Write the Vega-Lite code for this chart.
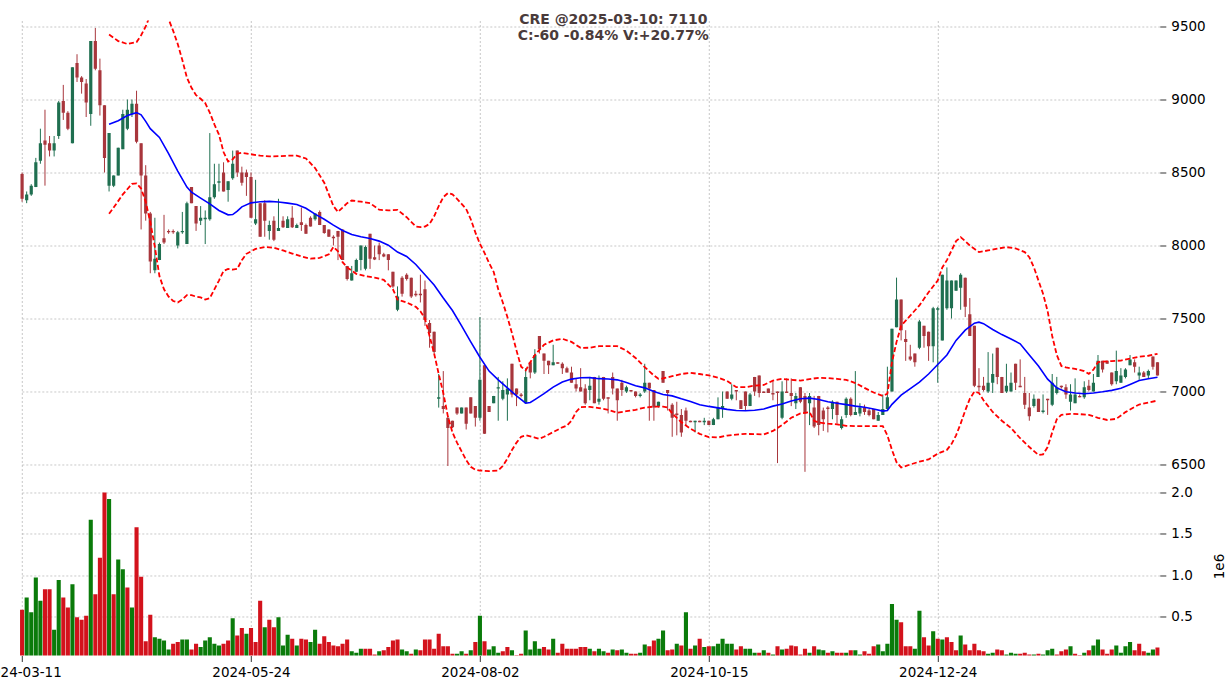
{
"$schema": "https://vega.github.io/schema/vega-lite/v6.json",
"padding": {"left": -17.2, "top": 12.5, "right": 0, "bottom": 0},
"background": "white",
"title": {"text": ["CRE @2025-03-10: 7110", "C:-60 -0.84% V:+20.77%"], "anchor": "middle", "frame": "bounds", "offset": -24, "dx": 9, "fontSize": 14, "fontWeight": "bold", "color": "#4a3b3b", "font": "DejaVu Sans", "lineHeight": 16},
"config": {"view": {"stroke": null}, "font": "DejaVu Sans",
  "axis": {"gridColor": "#b0b0b0", "gridDash": [2, 2], "gridWidth": 0.7, "domain": false, "tickColor": "#333333", "tickSize": 6, "labelColor": "#000000", "labelFontSize": 13.5, "labelFont": "DejaVu Sans", "titleFont": "DejaVu Sans", "titleFontWeight": "normal", "titleFontSize": 13.5, "titleColor": "#000000"}},
"datasets": {
"k": [
{"i":0,"o":8490,"h":8500,"l":8300,"c":8320,"v":0.58,"vd":"d"},
{"i":1,"o":8310,"h":8370,"l":8290,"c":8350,"v":0.73,"vd":"u"},
{"i":2,"o":8350,"h":8420,"l":8340,"c":8410,"v":0.55,"vd":"u"},
{"i":3,"o":8400,"h":8600,"l":8400,"c":8570,"v":0.97,"vd":"u"},
{"i":4,"o":8580,"h":8800,"l":8560,"c":8700,"v":0.69,"vd":"u"},
{"i":5,"o":8720,"h":8930,"l":8410,"c":8690,"v":0.83,"vd":"d"},
{"i":6,"o":8700,"h":8750,"l":8610,"c":8650,"v":0.83,"vd":"d"},
{"i":7,"o":8650,"h":8750,"l":8610,"c":8700,"v":0.34,"vd":"u"},
{"i":8,"o":8750,"h":8990,"l":8730,"c":8980,"v":0.94,"vd":"u"},
{"i":9,"o":8990,"h":9100,"l":8860,"c":8910,"v":0.73,"vd":"d"},
{"i":10,"o":8910,"h":8920,"l":8790,"c":8800,"v":0.61,"vd":"d"},
{"i":11,"o":8700,"h":9220,"l":8700,"c":9220,"v":0.89,"vd":"u"},
{"i":12,"o":9250,"h":9310,"l":9120,"c":9150,"v":0.49,"vd":"d"},
{"i":13,"o":9150,"h":9160,"l":9040,"c":9120,"v":0.46,"vd":"d"},
{"i":14,"o":9110,"h":9140,"l":8880,"c":8980,"v":0.51,"vd":"d"},
{"i":15,"o":8900,"h":9400,"l":8820,"c":9400,"v":1.67,"vd":"u"},
{"i":16,"o":9400,"h":9490,"l":9200,"c":9210,"v":0.77,"vd":"d"},
{"i":17,"o":9200,"h":9280,"l":8890,"c":8960,"v":1.21,"vd":"d"},
{"i":18,"o":8960,"h":8960,"l":8500,"c":8600,"v":2.0,"vd":"d"},
{"i":19,"o":8410,"h":8770,"l":8370,"c":8770,"v":1.92,"vd":"u"},
{"i":20,"o":8410,"h":8480,"l":8400,"c":8480,"v":0.77,"vd":"d"},
{"i":21,"o":8480,"h":8670,"l":8480,"c":8670,"v":1.19,"vd":"u"},
{"i":22,"o":8660,"h":8930,"l":8660,"c":8900,"v":1.07,"vd":"u"},
{"i":23,"o":8800,"h":9000,"l":8790,"c":8930,"v":0.85,"vd":"d"},
{"i":24,"o":8900,"h":9000,"l":8880,"c":8970,"v":0.61,"vd":"u"},
{"i":25,"o":8970,"h":9060,"l":8700,"c":8710,"v":1.58,"vd":"d"},
{"i":26,"o":8700,"h":8700,"l":8110,"c":8480,"v":0.98,"vd":"d"},
{"i":27,"o":8480,"h":8550,"l":8170,"c":8220,"v":0.20,"vd":"d"},
{"i":28,"o":8220,"h":8230,"l":7810,"c":7890,"v":0.52,"vd":"d"},
{"i":29,"o":7830,"h":8190,"l":7810,"c":7910,"v":0.25,"vd":"u"},
{"i":30,"o":7900,"h":8020,"l":7900,"c":8010,"v":0.23,"vd":"u"},
{"i":31,"o":8050,"h":8210,"l":8010,"c":8020,"v":0.21,"vd":"u"},
{"i":32,"o":8100,"h":8110,"l":8080,"c":8090,"v":0.10,"vd":"u"},
{"i":33,"o":8100,"h":8110,"l":8080,"c":8090,"v":0.17,"vd":"d"},
{"i":34,"o":8000,"h":8100,"l":7980,"c":8090,"v":0.19,"vd":"d"},
{"i":35,"o":8090,"h":8230,"l":8080,"c":8100,"v":0.22,"vd":"u"},
{"i":36,"o":8010,"h":8300,"l":8010,"c":8290,"v":0.22,"vd":"u"},
{"i":37,"o":8400,"h":8400,"l":8290,"c":8290,"v":0.10,"vd":"d"},
{"i":38,"o":8270,"h":8270,"l":8100,"c":8150,"v":0.17,"vd":"d"},
{"i":39,"o":8170,"h":8270,"l":8140,"c":8190,"v":0.13,"vd":"u"},
{"i":40,"o":8180,"h":8240,"l":8010,"c":8190,"v":0.21,"vd":"u"},
{"i":41,"o":8180,"h":8770,"l":8170,"c":8330,"v":0.25,"vd":"u"},
{"i":42,"o":8330,"h":8560,"l":8320,"c":8420,"v":0.17,"vd":"u"},
{"i":43,"o":8430,"h":8560,"l":8370,"c":8440,"v":0.15,"vd":"u"},
{"i":44,"o":8500,"h":8570,"l":8370,"c":8370,"v":0.17,"vd":"d"},
{"i":45,"o":8380,"h":8440,"l":8300,"c":8440,"v":0.21,"vd":"d"},
{"i":46,"o":8460,"h":8650,"l":8450,"c":8560,"v":0.48,"vd":"u"},
{"i":47,"o":8650,"h":8650,"l":8470,"c":8500,"v":0.27,"vd":"d"},
{"i":48,"o":8500,"h":8540,"l":8410,"c":8430,"v":0.36,"vd":"d"},
{"i":49,"o":8500,"h":8520,"l":8340,"c":8470,"v":0.29,"vd":"u"},
{"i":50,"o":8470,"h":8500,"l":8190,"c":8190,"v":0.36,"vd":"d"},
{"i":51,"o":8150,"h":8450,"l":8140,"c":8180,"v":0.19,"vd":"d"},
{"i":52,"o":8290,"h":8290,"l":8060,"c":8060,"v":0.69,"vd":"d"},
{"i":53,"o":8290,"h":8310,"l":8060,"c":8170,"v":0.37,"vd":"u"},
{"i":54,"o":8100,"h":8170,"l":8040,"c":8140,"v":0.46,"vd":"d"},
{"i":55,"o":8170,"h":8200,"l":8030,"c":8040,"v":0.37,"vd":"d"},
{"i":56,"o":8100,"h":8320,"l":8100,"c":8120,"v":0.49,"vd":"u"},
{"i":57,"o":8170,"h":8200,"l":8120,"c":8125,"v":0.15,"vd":"u"},
{"i":58,"o":8120,"h":8200,"l":8120,"c":8180,"v":0.28,"vd":"u"},
{"i":59,"o":8190,"h":8270,"l":8120,"c":8125,"v":0.23,"vd":"d"},
{"i":60,"o":8120,"h":8150,"l":8120,"c":8140,"v":0.15,"vd":"u"},
{"i":61,"o":8160,"h":8260,"l":8100,"c":8140,"v":0.23,"vd":"d"},
{"i":62,"o":8140,"h":8150,"l":8080,"c":8080,"v":0.22,"vd":"d"},
{"i":63,"o":8190,"h":8200,"l":8130,"c":8130,"v":0.19,"vd":"u"},
{"i":64,"o":8180,"h":8220,"l":8170,"c":8220,"v":0.34,"vd":"u"},
{"i":65,"o":8230,"h":8240,"l":8140,"c":8140,"v":0.17,"vd":"d"},
{"i":66,"o":8140,"h":8140,"l":8080,"c":8085,"v":0.26,"vd":"d"},
{"i":67,"o":8110,"h":8110,"l":8060,"c":8060,"v":0.19,"vd":"d"},
{"i":68,"o":8060,"h":8070,"l":8000,"c":8050,"v":0.15,"vd":"d"},
{"i":69,"o":8100,"h":8100,"l":7900,"c":8060,"v":0.14,"vd":"d"},
{"i":70,"o":8110,"h":8110,"l":7900,"c":7900,"v":0.17,"vd":"d"},
{"i":71,"o":7860,"h":7860,"l":7760,"c":7770,"v":0.22,"vd":"d"},
{"i":72,"o":7760,"h":7860,"l":7760,"c":7810,"v":0.08,"vd":"u"},
{"i":73,"o":7820,"h":7910,"l":7820,"c":7900,"v":0.06,"vd":"u"},
{"i":74,"o":7900,"h":8000,"l":7830,"c":8000,"v":0.11,"vd":"u"},
{"i":75,"o":7840,"h":8000,"l":7830,"c":7990,"v":0.11,"vd":"d"},
{"i":76,"o":8080,"h":8080,"l":7840,"c":7910,"v":0.11,"vd":"d"},
{"i":77,"o":7920,"h":8000,"l":7900,"c":7905,"v":0.04,"vd":"d"},
{"i":78,"o":8000,"h":8020,"l":7900,"c":7940,"v":0.08,"vd":"u"},
{"i":79,"o":7940,"h":7950,"l":7920,"c":7925,"v":0.09,"vd":"d"},
{"i":80,"o":7940,"h":7940,"l":7830,"c":7900,"v":0.13,"vd":"d"},
{"i":81,"o":7820,"h":7820,"l":7710,"c":7720,"v":0.21,"vd":"d"},
{"i":82,"o":7560,"h":7720,"l":7550,"c":7650,"v":0.22,"vd":"d"},
{"i":83,"o":7780,"h":7790,"l":7650,"c":7670,"v":0.10,"vd":"u"},
{"i":84,"o":7800,"h":7810,"l":7760,"c":7770,"v":0.08,"vd":"u"},
{"i":85,"o":7780,"h":7780,"l":7640,"c":7650,"v":0.05,"vd":"d"},
{"i":86,"o":7670,"h":7690,"l":7650,"c":7660,"v":0.10,"vd":"u"},
{"i":87,"o":7670,"h":7800,"l":7610,"c":7660,"v":0.09,"vd":"d"},
{"i":88,"o":7700,"h":7760,"l":7450,"c":7490,"v":0.22,"vd":"d"},
{"i":89,"o":7470,"h":7490,"l":7300,"c":7400,"v":0.22,"vd":"d"},
{"i":90,"o":7410,"h":7410,"l":7260,"c":7270,"v":0.11,"vd":"d"},
{"i":91,"o":6950,"h":7120,"l":6890,"c":6960,"v":0.29,"vd":"d"},
{"i":92,"o":6900,"h":7140,"l":6850,"c":6880,"v":0.14,"vd":"d"},
{"i":93,"o":6820,"h":6830,"l":6490,"c":6750,"v":0.14,"vd":"d"},
{"i":94,"o":6800,"h":6800,"l":6750,"c":6755,"v":0.05,"vd":"d"},
{"i":95,"o":6890,"h":6890,"l":6840,"c":6850,"v":0.05,"vd":"u"},
{"i":96,"o":6850,"h":6890,"l":6850,"c":6890,"v":0.08,"vd":"u"},
{"i":97,"o":6890,"h":6890,"l":6740,"c":6780,"v":0.05,"vd":"d"},
{"i":98,"o":6960,"h":6960,"l":6850,"c":6850,"v":0.09,"vd":"u"},
{"i":99,"o":6900,"h":6900,"l":6760,"c":6820,"v":0.19,"vd":"d"},
{"i":100,"o":6820,"h":7510,"l":6800,"c":7080,"v":0.51,"vd":"u"},
{"i":101,"o":7180,"h":7180,"l":6710,"c":6710,"v":0.20,"vd":"d"},
{"i":102,"o":6900,"h":6900,"l":6860,"c":6860,"v":0.10,"vd":"u"},
{"i":103,"o":6920,"h":6970,"l":6920,"c":6970,"v":0.14,"vd":"u"},
{"i":104,"o":7020,"h":7100,"l":6800,"c":7030,"v":0.06,"vd":"u"},
{"i":105,"o":6950,"h":7070,"l":6940,"c":7010,"v":0.08,"vd":"d"},
{"i":106,"o":6980,"h":7090,"l":6800,"c":7020,"v":0.13,"vd":"d"},
{"i":107,"o":7190,"h":7190,"l":6960,"c":6980,"v":0.09,"vd":"u"},
{"i":108,"o":7020,"h":7020,"l":6900,"c":6980,"v":0.03,"vd":"d"},
{"i":109,"o":6980,"h":6990,"l":6960,"c":6970,"v":0.05,"vd":"d"},
{"i":110,"o":6920,"h":7160,"l":6920,"c":7100,"v":0.33,"vd":"u"},
{"i":111,"o":7200,"h":7200,"l":7090,"c":7130,"v":0.10,"vd":"u"},
{"i":112,"o":7130,"h":7290,"l":7120,"c":7250,"v":0.20,"vd":"u"},
{"i":113,"o":7380,"h":7380,"l":7260,"c":7290,"v":0.11,"vd":"u"},
{"i":114,"o":7260,"h":7260,"l":7120,"c":7210,"v":0.13,"vd":"d"},
{"i":115,"o":7210,"h":7210,"l":7120,"c":7180,"v":0.10,"vd":"d"},
{"i":116,"o":7180,"h":7320,"l":7180,"c":7200,"v":0.23,"vd":"u"},
{"i":117,"o":7200,"h":7200,"l":7190,"c":7190,"v":0.06,"vd":"d"},
{"i":118,"o":7190,"h":7200,"l":7120,"c":7160,"v":0.17,"vd":"d"},
{"i":119,"o":7160,"h":7170,"l":7130,"c":7130,"v":0.11,"vd":"d"},
{"i":120,"o":7130,"h":7170,"l":7060,"c":7060,"v":0.11,"vd":"d"},
{"i":121,"o":7050,"h":7090,"l":7000,"c":7020,"v":0.11,"vd":"d"},
{"i":122,"o":7030,"h":7160,"l":7000,"c":7000,"v":0.13,"vd":"d"},
{"i":123,"o":7020,"h":7050,"l":6910,"c":6920,"v":0.13,"vd":"d"},
{"i":124,"o":7010,"h":7100,"l":6940,"c":7040,"v":0.11,"vd":"u"},
{"i":125,"o":7100,"h":7100,"l":6920,"c":6920,"v":0.08,"vd":"d"},
{"i":126,"o":6930,"h":7110,"l":6910,"c":6950,"v":0.11,"vd":"u"},
{"i":127,"o":7100,"h":7100,"l":6940,"c":6950,"v":0.08,"vd":"u"},
{"i":128,"o":6960,"h":6960,"l":6850,"c":6950,"v":0.06,"vd":"d"},
{"i":129,"o":7100,"h":7130,"l":6980,"c":7020,"v":0.10,"vd":"u"},
{"i":130,"o":7020,"h":7020,"l":6800,"c":6940,"v":0.09,"vd":"d"},
{"i":131,"o":7060,"h":7080,"l":6970,"c":7010,"v":0.10,"vd":"u"},
{"i":132,"o":7000,"h":7040,"l":6990,"c":7030,"v":0.06,"vd":"u"},
{"i":133,"o":7010,"h":7010,"l":7000,"c":7000,"v":0.05,"vd":"d"},
{"i":134,"o":7000,"h":7000,"l":6960,"c":6970,"v":0.05,"vd":"d"},
{"i":135,"o":6970,"h":6990,"l":6960,"c":6980,"v":0.06,"vd":"u"},
{"i":136,"o":7000,"h":7190,"l":6990,"c":7060,"v":0.16,"vd":"u"},
{"i":137,"o":7060,"h":7060,"l":6800,"c":7020,"v":0.14,"vd":"d"},
{"i":138,"o":7010,"h":7010,"l":6800,"c":6890,"v":0.21,"vd":"d"},
{"i":139,"o":6900,"h":6930,"l":6890,"c":6930,"v":0.23,"vd":"u"},
{"i":140,"o":7140,"h":7140,"l":7060,"c":7060,"v":0.33,"vd":"u"},
{"i":141,"o":7010,"h":7010,"l":6870,"c":6990,"v":0.09,"vd":"d"},
{"i":142,"o":6910,"h":6920,"l":6690,"c":6820,"v":0.10,"vd":"d"},
{"i":143,"o":6850,"h":6930,"l":6700,"c":6840,"v":0.17,"vd":"u"},
{"i":144,"o":6840,"h":6880,"l":6690,"c":6720,"v":0.15,"vd":"d"},
{"i":145,"o":6870,"h":6890,"l":6770,"c":6800,"v":0.55,"vd":"u"},
{"i":146,"o":6800,"h":6800,"l":6790,"c":6790,"v":0.11,"vd":"d"},
{"i":147,"o":6790,"h":6800,"l":6720,"c":6800,"v":0.15,"vd":"u"},
{"i":148,"o":6800,"h":6800,"l":6790,"c":6790,"v":0.23,"vd":"d"},
{"i":149,"o":6790,"h":6820,"l":6770,"c":6800,"v":0.13,"vd":"u"},
{"i":150,"o":6800,"h":6800,"l":6770,"c":6770,"v":0.14,"vd":"d"},
{"i":151,"o":6770,"h":6820,"l":6770,"c":6810,"v":0.14,"vd":"u"},
{"i":152,"o":6810,"h":6960,"l":6810,"c":6890,"v":0.17,"vd":"u"},
{"i":153,"o":6880,"h":7000,"l":6820,"c":6900,"v":0.23,"vd":"u"},
{"i":154,"o":7000,"h":7000,"l":6950,"c":6950,"v":0.17,"vd":"u"},
{"i":155,"o":6950,"h":7050,"l":6940,"c":6980,"v":0.17,"vd":"u"},
{"i":156,"o":7010,"h":7010,"l":6940,"c":7000,"v":0.10,"vd":"d"},
{"i":157,"o":6940,"h":6940,"l":6880,"c":6880,"v":0.14,"vd":"d"},
{"i":158,"o":7000,"h":7000,"l":6870,"c":6900,"v":0.11,"vd":"u"},
{"i":159,"o":6900,"h":6990,"l":6900,"c":6980,"v":0.11,"vd":"u"},
{"i":160,"o":7100,"h":7100,"l":6970,"c":7000,"v":0.06,"vd":"u"},
{"i":161,"o":7110,"h":7110,"l":6960,"c":6990,"v":0.06,"vd":"d"},
{"i":162,"o":7000,"h":7000,"l":6990,"c":6990,"v":0.09,"vd":"u"},
{"i":163,"o":7020,"h":7020,"l":6990,"c":6990,"v":0.06,"vd":"d"},
{"i":164,"o":6990,"h":7070,"l":6940,"c":6980,"v":0.04,"vd":"u"},
{"i":165,"o":7000,"h":7000,"l":6510,"c":6990,"v":0.14,"vd":"d"},
{"i":166,"o":6820,"h":7070,"l":6810,"c":7000,"v":0.10,"vd":"u"},
{"i":167,"o":7000,"h":7090,"l":6990,"c":6990,"v":0.11,"vd":"d"},
{"i":168,"o":6990,"h":7090,"l":6900,"c":6970,"v":0.15,"vd":"d"},
{"i":169,"o":6920,"h":6990,"l":6880,"c":6970,"v":0.14,"vd":"d"},
{"i":170,"o":7030,"h":7030,"l":6920,"c":6930,"v":0.04,"vd":"d"},
{"i":171,"o":6970,"h":6990,"l":6450,"c":6850,"v":0.11,"vd":"d"},
{"i":172,"o":6920,"h":6990,"l":6770,"c":6970,"v":0.06,"vd":"u"},
{"i":173,"o":6890,"h":6970,"l":6750,"c":6760,"v":0.14,"vd":"d"},
{"i":174,"o":6970,"h":6970,"l":6700,"c":6770,"v":0.10,"vd":"u"},
{"i":175,"o":6870,"h":6890,"l":6730,"c":6810,"v":0.09,"vd":"u"},
{"i":176,"o":6890,"h":6900,"l":6720,"c":6880,"v":0.06,"vd":"d"},
{"i":177,"o":6880,"h":6940,"l":6810,"c":6930,"v":0.08,"vd":"u"},
{"i":178,"o":6930,"h":6930,"l":6780,"c":6840,"v":0.06,"vd":"d"},
{"i":179,"o":6750,"h":6830,"l":6740,"c":6810,"v":0.06,"vd":"d"},
{"i":180,"o":6840,"h":6960,"l":6820,"c":6950,"v":0.06,"vd":"u"},
{"i":181,"o":6950,"h":6960,"l":6830,"c":6840,"v":0.09,"vd":"d"},
{"i":182,"o":6840,"h":7140,"l":6840,"c":6860,"v":0.09,"vd":"u"},
{"i":183,"o":6850,"h":6920,"l":6830,"c":6890,"v":0.04,"vd":"u"},
{"i":184,"o":6890,"h":6910,"l":6840,"c":6860,"v":0.08,"vd":"d"},
{"i":185,"o":6870,"h":6880,"l":6830,"c":6840,"v":0.05,"vd":"d"},
{"i":186,"o":6880,"h":6880,"l":6810,"c":6810,"v":0.14,"vd":"d"},
{"i":187,"o":6800,"h":6860,"l":6800,"c":6840,"v":0.16,"vd":"u"},
{"i":188,"o":6840,"h":6980,"l":6840,"c":6880,"v":0.08,"vd":"u"},
{"i":189,"o":6880,"h":7170,"l":6870,"c":6960,"v":0.17,"vd":"u"},
{"i":190,"o":7000,"h":7430,"l":7000,"c":7430,"v":0.65,"vd":"u"},
{"i":191,"o":7440,"h":7780,"l":7440,"c":7630,"v":0.46,"vd":"u"},
{"i":192,"o":7630,"h":7630,"l":7350,"c":7420,"v":0.43,"vd":"d"},
{"i":193,"o":7360,"h":7420,"l":7210,"c":7340,"v":0.14,"vd":"d"},
{"i":194,"o":7240,"h":7320,"l":7210,"c":7220,"v":0.14,"vd":"d"},
{"i":195,"o":7260,"h":7260,"l":7170,"c":7200,"v":0.11,"vd":"u"},
{"i":196,"o":7300,"h":7490,"l":7290,"c":7480,"v":0.57,"vd":"u"},
{"i":197,"o":7450,"h":7450,"l":7300,"c":7380,"v":0.25,"vd":"d"},
{"i":198,"o":7410,"h":7410,"l":7210,"c":7310,"v":0.15,"vd":"d"},
{"i":199,"o":7310,"h":7580,"l":7200,"c":7570,"v":0.32,"vd":"u"},
{"i":200,"o":7560,"h":7580,"l":7060,"c":7570,"v":0.23,"vd":"d"},
{"i":201,"o":7350,"h":7800,"l":7350,"c":7800,"v":0.22,"vd":"u"},
{"i":202,"o":7570,"h":7850,"l":7560,"c":7760,"v":0.25,"vd":"d"},
{"i":203,"o":7570,"h":7760,"l":7500,"c":7760,"v":0.19,"vd":"d"},
{"i":204,"o":7690,"h":7760,"l":7690,"c":7760,"v":0.09,"vd":"d"},
{"i":205,"o":7710,"h":7810,"l":7560,"c":7800,"v":0.27,"vd":"u"},
{"i":206,"o":7780,"h":7780,"l":7510,"c":7580,"v":0.16,"vd":"d"},
{"i":207,"o":7530,"h":7640,"l":7380,"c":7380,"v":0.09,"vd":"d"},
{"i":208,"o":7450,"h":7450,"l":7030,"c":7040,"v":0.17,"vd":"d"},
{"i":209,"o":7040,"h":7160,"l":7000,"c":7030,"v":0.09,"vd":"d"},
{"i":210,"o":7040,"h":7100,"l":7000,"c":7010,"v":0.08,"vd":"d"},
{"i":211,"o":7000,"h":7270,"l":6990,"c":7060,"v":0.05,"vd":"u"},
{"i":212,"o":7060,"h":7260,"l":6990,"c":7120,"v":0.06,"vd":"u"},
{"i":213,"o":7300,"h":7300,"l":7050,"c":7100,"v":0.10,"vd":"d"},
{"i":214,"o":7100,"h":7100,"l":6990,"c":6990,"v":0.09,"vd":"d"},
{"i":215,"o":7000,"h":7190,"l":6990,"c":7040,"v":0.04,"vd":"u"},
{"i":216,"o":7000,"h":7130,"l":7000,"c":7060,"v":0.06,"vd":"u"},
{"i":217,"o":7190,"h":7190,"l":7010,"c":7060,"v":0.05,"vd":"u"},
{"i":218,"o":7040,"h":7220,"l":7030,"c":7030,"v":0.05,"vd":"d"},
{"i":219,"o":6990,"h":7100,"l":6880,"c":6910,"v":0.06,"vd":"d"},
{"i":220,"o":6890,"h":6990,"l":6800,"c":6830,"v":0.04,"vd":"d"},
{"i":221,"o":6900,"h":6980,"l":6890,"c":6950,"v":0.04,"vd":"u"},
{"i":222,"o":6950,"h":6950,"l":6860,"c":6860,"v":0.05,"vd":"d"},
{"i":223,"o":6860,"h":6980,"l":6850,"c":6870,"v":0.04,"vd":"u"},
{"i":224,"o":6950,"h":6950,"l":6840,"c":6940,"v":0.09,"vd":"u"},
{"i":225,"o":6910,"h":7120,"l":6900,"c":7060,"v":0.11,"vd":"u"},
{"i":226,"o":6990,"h":7100,"l":6980,"c":7030,"v":0.04,"vd":"d"},
{"i":227,"o":7040,"h":7040,"l":7020,"c":7030,"v":0.08,"vd":"d"},
{"i":228,"o":7030,"h":7050,"l":6950,"c":6980,"v":0.10,"vd":"d"},
{"i":229,"o":6930,"h":7050,"l":6870,"c":6980,"v":0.14,"vd":"u"},
{"i":230,"o":6920,"h":7090,"l":6920,"c":6980,"v":0.05,"vd":"d"},
{"i":231,"o":6970,"h":6980,"l":6960,"c":6960,"v":0.03,"vd":"d"},
{"i":232,"o":6960,"h":7070,"l":6950,"c":7030,"v":0.06,"vd":"u"},
{"i":233,"o":7040,"h":7080,"l":7000,"c":7010,"v":0.09,"vd":"d"},
{"i":234,"o":7000,"h":7120,"l":7000,"c":7060,"v":0.15,"vd":"u"},
{"i":235,"o":7100,"h":7250,"l":7100,"c":7210,"v":0.22,"vd":"u"},
{"i":236,"o":7210,"h":7210,"l":7130,"c":7150,"v":0.10,"vd":"d"},
{"i":237,"o":7210,"h":7210,"l":7190,"c":7190,"v":0.05,"vd":"d"},
{"i":238,"o":7130,"h":7130,"l":7040,"c":7050,"v":0.10,"vd":"d"},
{"i":239,"o":7070,"h":7280,"l":7050,"c":7140,"v":0.15,"vd":"u"},
{"i":240,"o":7060,"h":7160,"l":7060,"c":7110,"v":0.06,"vd":"u"},
{"i":241,"o":7100,"h":7160,"l":7090,"c":7150,"v":0.14,"vd":"u"},
{"i":242,"o":7180,"h":7250,"l":7180,"c":7220,"v":0.19,"vd":"u"},
{"i":243,"o":7200,"h":7220,"l":7130,"c":7170,"v":0.09,"vd":"d"},
{"i":244,"o":7110,"h":7170,"l":7080,"c":7130,"v":0.17,"vd":"d"},
{"i":245,"o":7130,"h":7140,"l":7100,"c":7100,"v":0.08,"vd":"d"},
{"i":246,"o":7110,"h":7150,"l":7090,"c":7140,"v":0.06,"vd":"u"},
{"i":247,"o":7240,"h":7240,"l":7150,"c":7170,"v":0.10,"vd":"u"},
{"i":248,"o":7200,"h":7200,"l":7110,"c":7110,"v":0.125,"vd":"d"}
],
"mid": [
{"i":19,"p":8830},{"i":21,"p":8855},{"i":23,"p":8890},{"i":25,"p":8910},{"i":26,"p":8895},{"i":27,"p":8850},{"i":28,"p":8800},{"i":30,"p":8740},{"i":32,"p":8630},{"i":34,"p":8510},{"i":36,"p":8400},{"i":37,"p":8365},{"i":39,"p":8325},{"i":41,"p":8285},{"i":43,"p":8240},{"i":45,"p":8210},{"i":46,"p":8212},{"i":47,"p":8235},{"i":48,"p":8265},{"i":50,"p":8292},{"i":52,"p":8300},{"i":54,"p":8302},{"i":56,"p":8298},{"i":58,"p":8290},{"i":60,"p":8281},{"i":62,"p":8255},{"i":64,"p":8215},{"i":66,"p":8180},{"i":68,"p":8140},{"i":70,"p":8103},{"i":72,"p":8075},{"i":74,"p":8060},{"i":76,"p":8048},{"i":78,"p":8030},{"i":80,"p":8002},{"i":82,"p":7955},{"i":84,"p":7925},{"i":86,"p":7870},{"i":88,"p":7800},{"i":90,"p":7730},{"i":92,"p":7640},{"i":94,"p":7555},{"i":96,"p":7450},{"i":98,"p":7340},{"i":100,"p":7235},{"i":102,"p":7140},{"i":104,"p":7080},{"i":106,"p":7025},{"i":108,"p":6970},{"i":110,"p":6920},{"i":111,"p":6925},{"i":112,"p":6945},{"i":114,"p":6985},{"i":116,"p":7030},{"i":118,"p":7065},{"i":120,"p":7085},{"i":122,"p":7094},{"i":124,"p":7095},{"i":126,"p":7088},{"i":128,"p":7086},{"i":130,"p":7080},{"i":132,"p":7062},{"i":134,"p":7040},{"i":136,"p":7025},{"i":138,"p":7000},{"i":140,"p":6980},{"i":142,"p":6970},{"i":144,"p":6950},{"i":146,"p":6932},{"i":148,"p":6910},{"i":150,"p":6898},{"i":152,"p":6888},{"i":154,"p":6878},{"i":156,"p":6870},{"i":158,"p":6868},{"i":160,"p":6872},{"i":162,"p":6880},{"i":164,"p":6900},{"i":166,"p":6915},{"i":168,"p":6935},{"i":170,"p":6950},{"i":172,"p":6955},{"i":174,"p":6945},{"i":176,"p":6930},{"i":178,"p":6920},{"i":180,"p":6910},{"i":182,"p":6900},{"i":184,"p":6892},{"i":186,"p":6880},{"i":188,"p":6866},{"i":189,"p":6870},{"i":190,"p":6912},{"i":192,"p":6975},{"i":194,"p":7020},{"i":196,"p":7065},{"i":198,"p":7120},{"i":200,"p":7185},{"i":202,"p":7250},{"i":204,"p":7350},{"i":206,"p":7420},{"i":208,"p":7468},{"i":209,"p":7475},{"i":210,"p":7465},{"i":212,"p":7425},{"i":214,"p":7390},{"i":216,"p":7360},{"i":218,"p":7327},{"i":220,"p":7250},{"i":222,"p":7175},{"i":224,"p":7085},{"i":226,"p":7025},{"i":228,"p":6998},{"i":230,"p":6990},{"i":232,"p":6985},{"i":234,"p":6990},{"i":236,"p":6998},{"i":238,"p":7008},{"i":240,"p":7022},{"i":242,"p":7048},{"i":244,"p":7075},{"i":246,"p":7088},{"i":248,"p":7098}
],
"upper": [
{"i":19,"p":9445},{"i":21,"p":9400},{"i":23,"p":9380},{"i":25,"p":9393},{"i":26,"p":9440},{"i":27,"p":9500},{"i":28,"p":9580},{"i":29,"p":9640},{"i":30,"p":9660},{"i":31,"p":9620},{"i":32,"p":9550},{"i":33,"p":9470},{"i":34,"p":9380},{"i":35,"p":9270},{"i":36,"p":9150},{"i":37,"p":9080},{"i":38,"p":9030},{"i":39,"p":9005},{"i":40,"p":8975},{"i":41,"p":8910},{"i":42,"p":8830},{"i":43,"p":8760},{"i":44,"p":8640},{"i":45,"p":8575},{"i":46,"p":8590},{"i":47,"p":8630},{"i":48,"p":8635},{"i":50,"p":8625},{"i":52,"p":8615},{"i":54,"p":8610},{"i":56,"p":8612},{"i":58,"p":8615},{"i":60,"p":8616},{"i":62,"p":8596},{"i":64,"p":8530},{"i":66,"p":8430},{"i":67,"p":8350},{"i":68,"p":8270},{"i":69,"p":8230},{"i":70,"p":8260},{"i":71,"p":8290},{"i":72,"p":8308},{"i":74,"p":8300},{"i":76,"p":8290},{"i":78,"p":8245},{"i":80,"p":8240},{"i":82,"p":8244},{"i":84,"p":8194},{"i":86,"p":8130},{"i":87,"p":8126},{"i":88,"p":8130},{"i":89,"p":8148},{"i":90,"p":8200},{"i":91,"p":8270},{"i":92,"p":8331},{"i":93,"p":8359},{"i":94,"p":8350},{"i":95,"p":8320},{"i":96,"p":8285},{"i":97,"p":8250},{"i":98,"p":8180},{"i":99,"p":8090},{"i":100,"p":8012},{"i":101,"p":7950},{"i":102,"p":7880},{"i":103,"p":7820},{"i":104,"p":7700},{"i":105,"p":7610},{"i":106,"p":7510},{"i":107,"p":7400},{"i":108,"p":7280},{"i":109,"p":7170},{"i":110,"p":7145},{"i":111,"p":7200},{"i":112,"p":7250},{"i":114,"p":7320},{"i":116,"p":7350},{"i":118,"p":7361},{"i":120,"p":7340},{"i":122,"p":7299},{"i":124,"p":7300},{"i":126,"p":7311},{"i":128,"p":7311},{"i":130,"p":7311},{"i":132,"p":7280},{"i":134,"p":7230},{"i":136,"p":7167},{"i":138,"p":7110},{"i":139,"p":7087},{"i":140,"p":7090},{"i":142,"p":7105},{"i":144,"p":7120},{"i":146,"p":7128},{"i":148,"p":7120},{"i":150,"p":7110},{"i":152,"p":7095},{"i":154,"p":7072},{"i":156,"p":7030},{"i":158,"p":7030},{"i":160,"p":7040},{"i":162,"p":7045},{"i":164,"p":7075},{"i":166,"p":7087},{"i":168,"p":7080},{"i":170,"p":7075},{"i":172,"p":7085},{"i":174,"p":7094},{"i":176,"p":7092},{"i":178,"p":7087},{"i":180,"p":7080},{"i":182,"p":7058},{"i":184,"p":7025},{"i":186,"p":6993},{"i":188,"p":6970},{"i":189,"p":6985},{"i":190,"p":7200},{"i":191,"p":7340},{"i":192,"p":7450},{"i":194,"p":7520},{"i":196,"p":7590},{"i":198,"p":7680},{"i":200,"p":7760},{"i":201,"p":7850},{"i":202,"p":7900},{"i":204,"p":8030},{"i":205,"p":8057},{"i":206,"p":8030},{"i":207,"p":8000},{"i":209,"p":7955},{"i":211,"p":7966},{"i":213,"p":7978},{"i":215,"p":7989},{"i":217,"p":7980},{"i":219,"p":7955},{"i":220,"p":7920},{"i":221,"p":7850},{"i":222,"p":7760},{"i":223,"p":7670},{"i":224,"p":7550},{"i":225,"p":7380},{"i":226,"p":7250},{"i":227,"p":7175},{"i":228,"p":7165},{"i":230,"p":7155},{"i":232,"p":7140},{"i":233,"p":7121},{"i":234,"p":7150},{"i":235,"p":7201},{"i":236,"p":7205},{"i":238,"p":7208},{"i":240,"p":7212},{"i":242,"p":7225},{"i":244,"p":7238},{"i":246,"p":7245},{"i":248,"p":7258}
],
"lower": [
{"i":19,"p":8217},{"i":20,"p":8260},{"i":22,"p":8350},{"i":24,"p":8422},{"i":25,"p":8425},{"i":26,"p":8390},{"i":27,"p":8300},{"i":28,"p":8160},{"i":29,"p":7990},{"i":30,"p":7790},{"i":31,"p":7700},{"i":32,"p":7650},{"i":33,"p":7620},{"i":34,"p":7610},{"i":35,"p":7630},{"i":36,"p":7660},{"i":37,"p":7660},{"i":38,"p":7650},{"i":39,"p":7645},{"i":40,"p":7630},{"i":41,"p":7640},{"i":42,"p":7700},{"i":43,"p":7760},{"i":44,"p":7825},{"i":45,"p":7840},{"i":46,"p":7835},{"i":47,"p":7840},{"i":48,"p":7900},{"i":49,"p":7943},{"i":51,"p":7977},{"i":53,"p":7990},{"i":55,"p":7985},{"i":57,"p":7966},{"i":59,"p":7945},{"i":61,"p":7925},{"i":63,"p":7910},{"i":65,"p":7915},{"i":67,"p":7940},{"i":68,"p":7990},{"i":69,"p":7960},{"i":70,"p":7886},{"i":71,"p":7850},{"i":73,"p":7806},{"i":75,"p":7790},{"i":77,"p":7780},{"i":79,"p":7765},{"i":81,"p":7700},{"i":82,"p":7630},{"i":84,"p":7610},{"i":86,"p":7580},{"i":87,"p":7550},{"i":88,"p":7500},{"i":89,"p":7380},{"i":90,"p":7260},{"i":91,"p":7120},{"i":92,"p":6990},{"i":93,"p":6830},{"i":94,"p":6720},{"i":95,"p":6650},{"i":96,"p":6590},{"i":97,"p":6530},{"i":98,"p":6485},{"i":99,"p":6465},{"i":100,"p":6459},{"i":102,"p":6455},{"i":104,"p":6459},{"i":105,"p":6490},{"i":106,"p":6540},{"i":107,"p":6600},{"i":108,"p":6650},{"i":109,"p":6690},{"i":110,"p":6700},{"i":112,"p":6685},{"i":113,"p":6676},{"i":114,"p":6690},{"i":116,"p":6722},{"i":118,"p":6755},{"i":119,"p":6767},{"i":120,"p":6800},{"i":121,"p":6860},{"i":122,"p":6893},{"i":124,"p":6895},{"i":126,"p":6887},{"i":128,"p":6875},{"i":130,"p":6855},{"i":132,"p":6865},{"i":134,"p":6875},{"i":136,"p":6890},{"i":138,"p":6897},{"i":140,"p":6897},{"i":141,"p":6890},{"i":142,"p":6850},{"i":144,"p":6790},{"i":146,"p":6745},{"i":148,"p":6710},{"i":150,"p":6688},{"i":152,"p":6685},{"i":154,"p":6698},{"i":156,"p":6705},{"i":158,"p":6710},{"i":160,"p":6708},{"i":162,"p":6706},{"i":164,"p":6730},{"i":166,"p":6770},{"i":168,"p":6820},{"i":170,"p":6850},{"i":172,"p":6859},{"i":173,"p":6800},{"i":174,"p":6788},{"i":176,"p":6780},{"i":178,"p":6775},{"i":180,"p":6765},{"i":182,"p":6763},{"i":184,"p":6763},{"i":186,"p":6763},{"i":188,"p":6763},{"i":189,"p":6700},{"i":190,"p":6600},{"i":191,"p":6516},{"i":192,"p":6480},{"i":194,"p":6500},{"i":196,"p":6520},{"i":198,"p":6535},{"i":200,"p":6575},{"i":202,"p":6600},{"i":203,"p":6640},{"i":204,"p":6700},{"i":205,"p":6780},{"i":206,"p":6870},{"i":207,"p":6950},{"i":208,"p":7000},{"i":209,"p":6990},{"i":210,"p":6940},{"i":212,"p":6860},{"i":214,"p":6800},{"i":216,"p":6750},{"i":218,"p":6680},{"i":220,"p":6620},{"i":222,"p":6565},{"i":223,"p":6570},{"i":224,"p":6620},{"i":225,"p":6720},{"i":226,"p":6810},{"i":227,"p":6840},{"i":229,"p":6847},{"i":231,"p":6845},{"i":233,"p":6840},{"i":235,"p":6820},{"i":237,"p":6805},{"i":239,"p":6813},{"i":241,"p":6859},{"i":243,"p":6895},{"i":244,"p":6911},{"i":246,"p":6925},{"i":248,"p":6938}
]
},
"resolve": {"scale": {"x": "independent", "y": "independent"}},
"spacing": 0,
"vconcat": [
{
"width": 1140, "height": 456,
"layer": [
{"data": {"name": "k"}, "mark": {"type": "rule", "strokeWidth": 1, "clip": true},
 "encoding": {
  "x": {"field": "i", "type": "quantitative", "scale": {"domain": [-0.5, 248.5], "nice": false, "zero": false, "padding": 0},
        "axis": {"values": [0, 50, 100, 150, 200], "grid": true, "labels": false, "ticks": false, "domain": false, "title": null}},
  "y": {"field": "l", "type": "quantitative", "scale": {"domain": [6418, 9541], "nice": false, "zero": false, "padding": 0},
        "axis": {"orient": "right", "values": [6500, 7000, 7500, 8000, 8500, 9000, 9500], "format": "d", "grid": true, "title": null, "labelPadding": 5}},
  "y2": {"field": "h"},
  "color": {"condition": {"test": "datum.c >= datum.o", "value": "#1f6f50"}, "value": "#a8363c"}
 }},
{"data": {"name": "k"}, "mark": {"type": "bar", "size": 3.2, "clip": true},
 "encoding": {
  "x": {"field": "i", "type": "quantitative"},
  "y": {"field": "o", "type": "quantitative"},
  "y2": {"field": "c"},
  "color": {"condition": {"test": "datum.c >= datum.o", "value": "#1f6f50"}, "value": "#a8363c"}
 }},
{"data": {"name": "upper"}, "mark": {"type": "line", "color": "#ff0000", "strokeDash": [5, 2.5], "strokeWidth": 1.8, "clip": true},
 "encoding": {"x": {"field": "i", "type": "quantitative"}, "y": {"field": "p", "type": "quantitative"}}},
{"data": {"name": "lower"}, "mark": {"type": "line", "color": "#ff0000", "strokeDash": [5, 2.5], "strokeWidth": 1.8, "clip": true},
 "encoding": {"x": {"field": "i", "type": "quantitative"}, "y": {"field": "p", "type": "quantitative"}}},
{"data": {"name": "mid"}, "mark": {"type": "line", "color": "#0000ff", "strokeWidth": 1.6, "clip": true},
 "encoding": {"x": {"field": "i", "type": "quantitative"}, "y": {"field": "p", "type": "quantitative"}}}
]
},
{
"width": 1140, "height": 179,
"data": {"name": "k"},
"mark": {"type": "bar", "size": 4.1, "clip": true},
"encoding": {
 "x": {"field": "i", "type": "quantitative", "scale": {"domain": [-0.5, 248.5], "nice": false, "zero": false, "padding": 0},
       "axis": {"values": [0, 50, 100, 150, 200], "grid": true, "domain": false, "title": null, "labelPadding": 4.5,
                "labelExpr": "datum.value == 0 ? '2024-03-11' : datum.value == 50 ? '2024-05-24' : datum.value == 100 ? '2024-08-02' : datum.value == 150 ? '2024-10-15' : '2024-12-24'"}},
 "y": {"field": "v", "type": "quantitative", "scale": {"domain": [0.028, 2.193], "nice": false, "zero": false, "padding": 0},
       "axis": {"orient": "right", "values": [0.5, 1.0, 1.5, 2.0], "format": ".1f", "grid": true, "title": "1e6", "titleAngle": 270, "titlePadding": 34, "labelPadding": 5}},
 "y2": {"datum": 0},
 "color": {"condition": {"test": "datum.vd == 'u'", "value": "#0a7b0a"}, "value": "#d3121c"}
}
}
]
}
